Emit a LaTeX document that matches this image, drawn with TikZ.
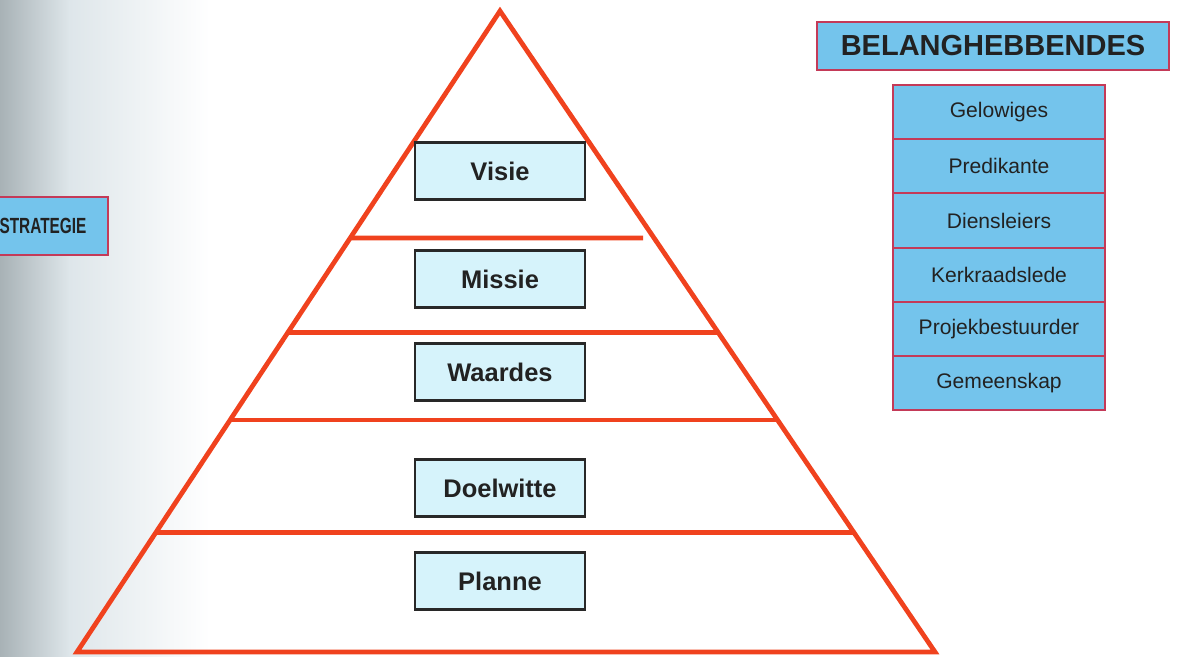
\documentclass[tikz,border=0pt]{standalone}
\usepackage{fontspec}
\usepackage{graphicx}
\setmainfont{Liberation Sans}
\usetikzlibrary{positioning,calc}

\definecolor{pagegray}{RGB}{168,178,182}
\definecolor{pagelight}{RGB}{222,230,234}
\definecolor{pyrred}{RGB}{240,66,30}
\definecolor{levelfill}{RGB}{214,243,251}
\definecolor{leveledge}{RGB}{40,40,40}
\definecolor{partyfill}{RGB}{116,196,236}
\definecolor{partyedge}{RGB}{196,58,88}
\definecolor{inktext}{RGB}{34,34,34}

\tikzset{
  pyr/.style={draw=pyrred, line width=0.095cm},
  level/.style={draw=leveledge, line width=0.05cm, fill=levelfill, text=inktext,
    minimum width=3.4cm, minimum height=1.14cm, outer sep=0pt,
    font=\bfseries\fontsize{14.5}{17}\selectfont},
  party/.style={draw=partyedge, line width=0.04cm, fill=partyfill, text=inktext,
    minimum width=4.24cm, minimum height=1.084cm, inner sep=0pt, outer sep=0pt,
    font=\fontsize{12}{14}\selectfont},
  head/.style={draw=partyedge, line width=0.04cm, fill=partyfill, text=inktext,
    inner sep=0pt, outer sep=0pt},
}

\begin{document}
\begin{tikzpicture}[x=0.02cm,y=-0.02cm]
\useasboundingbox (0,0) rectangle (1186,656);

% Page background with grey scan edge
\fill[white] (0,0) rectangle (1186,656);
\shade[left color=pagegray, right color=pagelight] (0,0) rectangle (70,656);
\shade[left color=pagelight, right color=white] (69.5,0) rectangle (210,656);

% Marking apex and base corners
\coordinate (apex) at (500,11);
\coordinate (bl) at (77,652);
\coordinate (br) at (935,652);

% Drawing the pyramid
\draw[pyr] (bl) -- (apex) -- (br) -- cycle;

% Drawing top divider (stops short of right side)
\coordinate (vr) at (643,238);
\draw[pyr] ($(apex)!0.354!(bl)$) -- (vr);

% Drawing the other dividers
\foreach \t in {0.502,0.638,0.814}
  \draw[pyr] ($(apex)!\t!(bl)$) -- ($(apex)!\t!(br)$);

% Marking the levels
\node[level] (visie) at (500,171) {Visie};
\node[level] (missie) at (500,279) {Missie};
\node[level] (waardes) at (500,372) {Waardes};
\node[level] (doelwitte) at (500,488) {Doelwitte};
\node[level] (planne) at (500,581) {Planne};

% Marking strategy box (cut by left edge)
\node[head, minimum width=2.6cm, minimum height=1.16cm,
  font=\bfseries\fontsize{12.5}{14}\selectfont] (strategie) at (43,226)
  {\scalebox{0.7}[1]{STRATEGIE}};

% Marking stakeholders
\node[head, minimum width=7.04cm, minimum height=0.96cm,
  font=\bfseries\fontsize{16.5}{19}\selectfont] (belang) at (993,46) {BELANGHEBBENDES};
\node[party] (gelowiges) at (999,112.1) {Gelowiges};
\node[party, below=0pt of gelowiges] (predikante) {Predikante};
\node[party, below=0pt of predikante] (diensleiers) {Diensleiers};
\node[party, below=0pt of diensleiers] (kerkraad) {Kerkraadslede};
\node[party, below=0pt of kerkraad] (projek) {Projekbestuurder};
\node[party, below=0pt of projek] (gemeenskap) {Gemeenskap};
\end{tikzpicture}
\end{document}
